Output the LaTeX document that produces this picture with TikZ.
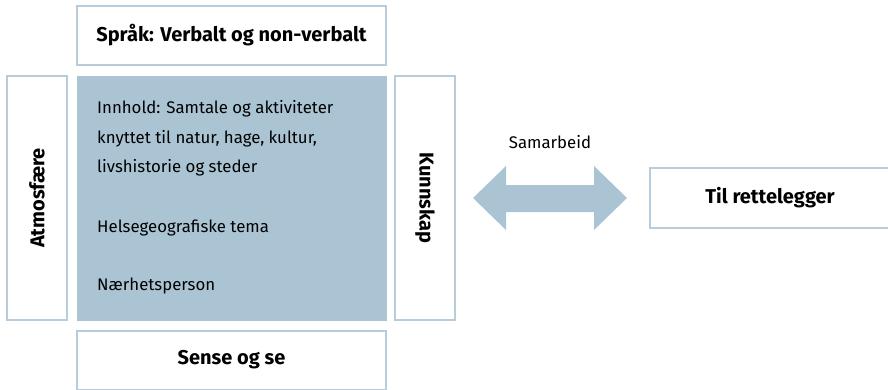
\documentclass[tikz,border=0pt]{standalone}
\usepackage{fontspec}
\setmainfont{Fira Sans}
\begin{document}
\begin{tikzpicture}[x=1pt,y=-1pt,
  frame/.style={draw=edgec,line width=2pt,fill=white},
  ttl/.style={font=\bfseries\fontsize{20}{24}\selectfont},
  body/.style={font=\fontsize{16.8}{20}\selectfont,anchor=west,inner sep=0pt}]
\definecolor{edgec}{HTML}{B7CDDC}
\definecolor{fillc}{HTML}{ABC4D4}
\useasboundingbox (0,0) rectangle (888,389);
\node[frame,minimum width=309pt,minimum height=59pt] (top) at (231.5,35.5) {};
\node[ttl] (toptxt) at (top.center) {Språk: Verbalt og non-verbalt};
\node[frame,minimum width=60pt,minimum height=244pt] (left) at (37,198) {};
\node[ttl,rotate=90] (lefttxt) at (left.center) {Atmosfære};
\node[fill=fillc,minimum width=310pt,minimum height=245pt,inner sep=0pt] (mid) at (231.5,198) {};
\node[frame,minimum width=60pt,minimum height=244pt] (right) at (425,198) {};
\node[ttl,rotate=-90] (righttxt) at (right.center) {Kunnskap};
\node[frame,minimum width=309pt,minimum height=59pt] (bot) at (231.5,360) {};
\node[ttl] (bottxt) at (bot.center) {Sense og se};
\node[body] (l1) at (97,109) {Innhold: Samtale og aktiviteter};
\node[body] (l2) at (97,139) {knyttet til natur, hage, kultur,};
\node[body] (l3) at (97,168) {livshistorie og steder};
\node[body] (l4) at (97,228) {Helsegeografiske tema};
\node[body] (l5) at (97,286) {Nærhetsperson};
\node[frame,minimum width=250pt,minimum height=60pt] (til) at (775,198) {};
\node[ttl] (tiltxt) at (770,198) {Til rettelegger};
\coordinate (aL) at (473,198);
\coordinate (aR) at (627,198);
\fill[fillc] (aL) -- ++(33,-32) -- ++(0,19) -- ++(88,0) -- ++(0,-19) -- (aR) -- ++(-33,32) -- ++(0,-18) -- ++(-88,0) -- ++(0,18) -- cycle;
\node[font=\fontsize{16.8}{20}\selectfont] (sam) at (550,142) {Samarbeid};
\end{tikzpicture}
\end{document}
